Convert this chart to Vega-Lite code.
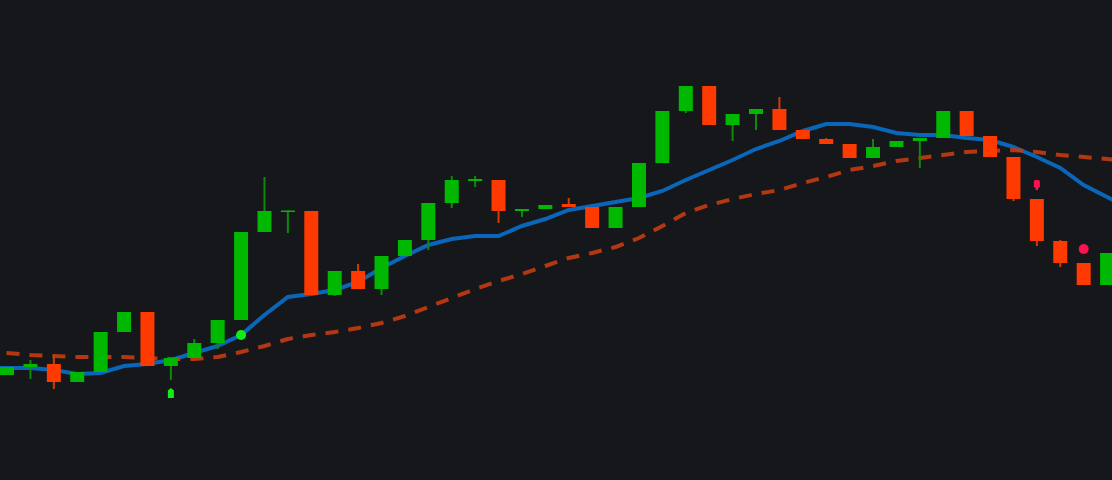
{
  "$schema": "https://vega.github.io/schema/vega-lite/v6.json",
  "autosize": {"type": "fit", "contains": "padding"},
  "width": 1112,
  "height": 480,
  "padding": 0,
  "background": "#16171b",
  "config": {"view": {"stroke": null}, "axis": {"disable": true}},
  "datasets": {
    "candles": [
      {"i": 0, "o": 105, "h": 113, "l": 105, "c": 113, "dir": "up"},
      {"i": 1, "o": 113, "h": 120, "l": 101, "c": 116, "dir": "up"},
      {"i": 2, "o": 116, "h": 125, "l": 91, "c": 98, "dir": "down"},
      {"i": 3, "o": 98, "h": 108, "l": 98, "c": 108, "dir": "up"},
      {"i": 4, "o": 108, "h": 148, "l": 108, "c": 148, "dir": "up"},
      {"i": 5, "o": 148, "h": 168, "l": 148, "c": 168, "dir": "up"},
      {"i": 6, "o": 168, "h": 168, "l": 114, "c": 114, "dir": "down"},
      {"i": 7, "o": 114, "h": 122, "l": 100, "c": 122, "dir": "up"},
      {"i": 8, "o": 122, "h": 141, "l": 122, "c": 137, "dir": "up"},
      {"i": 9, "o": 137, "h": 160, "l": 131, "c": 160, "dir": "up"},
      {"i": 10, "o": 160, "h": 248, "l": 160, "c": 248, "dir": "up"},
      {"i": 11, "o": 248, "h": 303, "l": 248, "c": 269, "dir": "up"},
      {"i": 12, "o": 268, "h": 269.5, "l": 247, "c": 269.5, "dir": "up"},
      {"i": 13, "o": 269, "h": 269, "l": 185, "c": 185, "dir": "down"},
      {"i": 14, "o": 185, "h": 209, "l": 184, "c": 209, "dir": "up"},
      {"i": 15, "o": 209, "h": 216, "l": 191, "c": 191, "dir": "down"},
      {"i": 16, "o": 191, "h": 224, "l": 185, "c": 224, "dir": "up"},
      {"i": 17, "o": 224, "h": 240, "l": 224, "c": 240, "dir": "up"},
      {"i": 18, "o": 240, "h": 277, "l": 230, "c": 277, "dir": "up"},
      {"i": 19, "o": 277, "h": 304, "l": 272, "c": 300, "dir": "up"},
      {"i": 20, "o": 299, "h": 304, "l": 293, "c": 301, "dir": "up"},
      {"i": 21, "o": 300, "h": 300, "l": 257, "c": 269, "dir": "down"},
      {"i": 22, "o": 269, "h": 271, "l": 263, "c": 271, "dir": "up"},
      {"i": 23, "o": 271, "h": 275, "l": 271, "c": 275, "dir": "up"},
      {"i": 24, "o": 276, "h": 282, "l": 273, "c": 273, "dir": "down"},
      {"i": 25, "o": 273, "h": 273, "l": 252, "c": 252, "dir": "down"},
      {"i": 26, "o": 252, "h": 273, "l": 252, "c": 273, "dir": "up"},
      {"i": 27, "o": 273, "h": 317, "l": 273, "c": 317, "dir": "up"},
      {"i": 28, "o": 317, "h": 369, "l": 317, "c": 369, "dir": "up"},
      {"i": 29, "o": 369, "h": 394, "l": 367, "c": 394, "dir": "up"},
      {"i": 30, "o": 394, "h": 394, "l": 355, "c": 355, "dir": "down"},
      {"i": 31, "o": 355, "h": 366, "l": 339, "c": 366, "dir": "up"},
      {"i": 32, "o": 366, "h": 371, "l": 350, "c": 371, "dir": "up"},
      {"i": 33, "o": 371, "h": 383, "l": 350, "c": 350, "dir": "down"},
      {"i": 34, "o": 350, "h": 350, "l": 341, "c": 341, "dir": "down"},
      {"i": 35, "o": 341, "h": 342, "l": 336, "c": 336, "dir": "down"},
      {"i": 36, "o": 336, "h": 336, "l": 322, "c": 322, "dir": "down"},
      {"i": 37, "o": 322, "h": 341, "l": 322, "c": 333, "dir": "up"},
      {"i": 38, "o": 333, "h": 339, "l": 333, "c": 339, "dir": "up"},
      {"i": 39, "o": 339, "h": 342, "l": 312, "c": 342, "dir": "up"},
      {"i": 40, "o": 342, "h": 369, "l": 342, "c": 369, "dir": "up"},
      {"i": 41, "o": 369, "h": 369, "l": 344, "c": 344, "dir": "down"},
      {"i": 42, "o": 344, "h": 344, "l": 323, "c": 323, "dir": "down"},
      {"i": 43, "o": 323, "h": 323, "l": 279, "c": 281, "dir": "down"},
      {"i": 44, "o": 281, "h": 281, "l": 234, "c": 239, "dir": "down"},
      {"i": 45, "o": 239, "h": 240, "l": 213, "c": 217, "dir": "down"},
      {"i": 46, "o": 217, "h": 217, "l": 195, "c": 195, "dir": "down"},
      {"i": 47, "o": 195, "h": 227, "l": 195, "c": 227, "dir": "up"}
    ],
    "lines": [
      {"i": -1, "ma1": 112, "ma2": 129},
      {"i": 0, "ma1": 112, "ma2": 127},
      {"i": 1, "ma1": 112, "ma2": 125},
      {"i": 2, "ma1": 110, "ma2": 124},
      {"i": 3, "ma1": 106, "ma2": 123},
      {"i": 4, "ma1": 107, "ma2": 123},
      {"i": 5, "ma1": 114, "ma2": 123},
      {"i": 6, "ma1": 116, "ma2": 122},
      {"i": 7, "ma1": 120, "ma2": 121},
      {"i": 8, "ma1": 127, "ma2": 121},
      {"i": 9, "ma1": 134, "ma2": 123},
      {"i": 10, "ma1": 145, "ma2": 128},
      {"i": 11, "ma1": 165, "ma2": 134},
      {"i": 12, "ma1": 183, "ma2": 141},
      {"i": 13, "ma1": 186, "ma2": 145},
      {"i": 14, "ma1": 190, "ma2": 148},
      {"i": 15, "ma1": 198, "ma2": 152},
      {"i": 16, "ma1": 212, "ma2": 157},
      {"i": 17, "ma1": 224, "ma2": 164},
      {"i": 18, "ma1": 235, "ma2": 173},
      {"i": 19, "ma1": 241, "ma2": 182},
      {"i": 20, "ma1": 244, "ma2": 191},
      {"i": 21, "ma1": 244, "ma2": 199},
      {"i": 22, "ma1": 254, "ma2": 206},
      {"i": 23, "ma1": 261, "ma2": 214},
      {"i": 24, "ma1": 270, "ma2": 222},
      {"i": 25, "ma1": 274, "ma2": 227},
      {"i": 26, "ma1": 278, "ma2": 233},
      {"i": 27, "ma1": 282, "ma2": 242},
      {"i": 28, "ma1": 289, "ma2": 254},
      {"i": 29, "ma1": 300, "ma2": 267},
      {"i": 30, "ma1": 310, "ma2": 275},
      {"i": 31, "ma1": 320, "ma2": 281},
      {"i": 32, "ma1": 331, "ma2": 286},
      {"i": 33, "ma1": 339, "ma2": 290},
      {"i": 34, "ma1": 349, "ma2": 297},
      {"i": 35, "ma1": 356, "ma2": 303},
      {"i": 36, "ma1": 356, "ma2": 310},
      {"i": 37, "ma1": 353, "ma2": 314},
      {"i": 38, "ma1": 347, "ma2": 319},
      {"i": 39, "ma1": 345, "ma2": 322},
      {"i": 40, "ma1": 345, "ma2": 325},
      {"i": 41, "ma1": 342, "ma2": 328},
      {"i": 42, "ma1": 340, "ma2": 329},
      {"i": 43, "ma1": 333, "ma2": 330},
      {"i": 44, "ma1": 323, "ma2": 328},
      {"i": 45, "ma1": 312, "ma2": 325},
      {"i": 46, "ma1": 295, "ma2": 323},
      {"i": 47, "ma1": 283, "ma2": 321},
      {"i": 48, "ma1": 271, "ma2": 319}
    ],
    "dots": [
      {"i": 10, "p": 145, "kind": "buy"},
      {"i": 46, "p": 231, "kind": "sell"}
    ],
    "flags": [
      {"i": 7, "p": 87, "kind": "buy"},
      {"i": 44, "p": 295, "kind": "sell"}
    ]
  },
  "resolve": {"scale": {"color": "independent"}},
  "layer": [
    {
      "data": {"name": "lines"},
      "mark": {"type": "line", "stroke": "#0a66b8", "strokeWidth": 4, "clip": true},
      "encoding": {
        "x": {"field": "i", "type": "quantitative", "scale": {"domain": [-0.3, 47.21], "nice": false, "zero": false, "padding": 0}},
        "y": {"field": "ma1", "type": "quantitative", "scale": {"domain": [0, 480], "nice": false, "zero": false, "padding": 0}}
      }
    },
    {
      "data": {"name": "lines"},
      "mark": {"type": "line", "stroke": "#c43c12", "strokeWidth": 4, "strokeDash": [13, 10], "opacity": 0.9, "clip": true},
      "encoding": {
        "x": {"field": "i", "type": "quantitative"},
        "y": {"field": "ma2", "type": "quantitative"}
      }
    },
    {
      "data": {"name": "candles"},
      "mark": {"type": "rule", "strokeWidth": 2, "clip": true},
      "encoding": {
        "x": {"field": "i", "type": "quantitative"},
        "y": {"field": "l", "type": "quantitative"},
        "y2": {"field": "h"},
        "color": {"field": "dir", "type": "nominal", "legend": null, "scale": {"domain": ["up", "down"], "range": ["#0a8c0a", "#d23c00"]}}
      }
    },
    {
      "data": {"name": "candles"},
      "mark": {"type": "bar", "width": 14, "clip": true},
      "encoding": {
        "x": {"field": "i", "type": "quantitative"},
        "y": {"field": "o", "type": "quantitative"},
        "y2": {"field": "c"},
        "color": {"field": "dir", "type": "nominal", "legend": null, "scale": {"domain": ["up", "down"], "range": ["#00b800", "#ff3a00"]}}
      }
    },
    {
      "data": {"name": "dots"},
      "mark": {"type": "point", "shape": "circle", "filled": true, "opacity": 1, "size": 100, "clip": true},
      "encoding": {
        "x": {"field": "i", "type": "quantitative"},
        "y": {"field": "p", "type": "quantitative"},
        "color": {"field": "kind", "type": "nominal", "legend": null, "scale": {"domain": ["buy", "sell"], "range": ["#12ee12", "#ff1050"]}}
      }
    },
    {
      "data": {"name": "flags"},
      "transform": [{"filter": "datum.kind == 'buy'"}],
      "mark": {"type": "point", "shape": "M0,-1L0.6,-0.5L0.6,1L-0.6,1L-0.6,-0.5Z", "filled": true, "opacity": 1, "size": 100, "color": "#12ee12", "clip": true},
      "encoding": {
        "x": {"field": "i", "type": "quantitative"},
        "y": {"field": "p", "type": "quantitative"}
      }
    },
    {
      "data": {"name": "flags"},
      "transform": [{"filter": "datum.kind == 'sell'"}],
      "mark": {"type": "point", "shape": "M-0.6,-0.7Q-0.6,-1,-0.3,-1L0.3,-1Q0.6,-1,0.6,-0.7L0.6,0.4L0.25,0.6L0.25,1L-0.25,1L-0.25,0.6L-0.6,0.4Z", "filled": true, "opacity": 1, "size": 100, "color": "#ff1050", "clip": true},
      "encoding": {
        "x": {"field": "i", "type": "quantitative"},
        "y": {"field": "p", "type": "quantitative"}
      }
    }
  ]
}
